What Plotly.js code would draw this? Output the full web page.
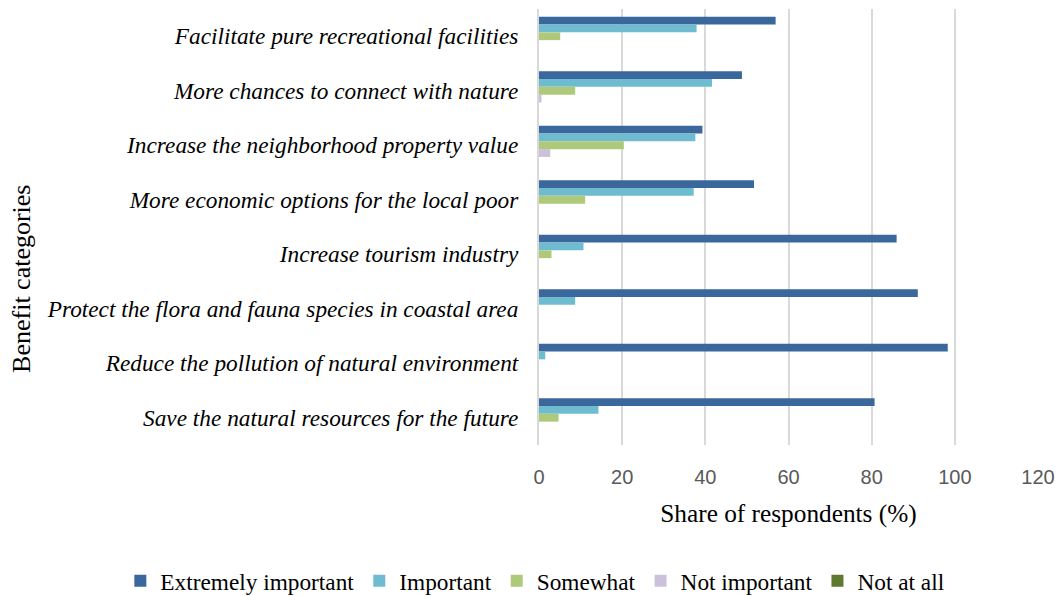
<!DOCTYPE html>
<html>
<head>
<meta charset="utf-8">
<script src="https://cdn.plot.ly/plotly-3.0.1.min.js"></script>
<style>html,body{margin:0;padding:0;background:#fff;}#chart{width:1063px;height:596px;}</style>
</head>
<body>
<div id="chart"></div>
<script>
const categories = [
  "Facilitate pure recreational facilities",
  "More chances to connect with nature",
  "Increase the neighborhood property value",
  "More economic options for the local poor",
  "Increase tourism industry",
  "Protect the flora and fauna species in coastal area",
  "Reduce the pollution of natural environment",
  "Save the natural resources for the future"
];
const extremelyImportant = [56.9, 48.8, 39.3, 51.7, 86.0, 91.1, 98.3, 80.7];
const important          = [37.9, 41.6, 37.6, 37.2, 10.7, 8.7, 1.5, 14.3];
const somewhat           = [5.1, 8.7, 20.4, 11.1, 3.0, 0, 0, 4.7];
const notImportant       = [0, 0.6, 2.7, 0, 0, 0, 0, 0];
const notAtAll           = [0, 0, 0, 0, 0, 0, 0, 0];
const seriesNames = ["Extremely important", "Important", "Somewhat", "Not important", "Not at all"];
const xTicks = [0, 20, 40, 60, 80, 100, 120];
const yTitle = "Benefit categories";
const xTitle = "Share of respondents (%)";

const colors = ["#3A679C", "#6FBCD1", "#AFC97A", "#CCC1DA", "#5E7A2F"];
const seriesValues = [extremelyImportant, important, somewhat, notImportant, notAtAll];

const traces = seriesValues.map((vals, i) => ({
  type: "bar",
  orientation: "h",
  name: seriesNames[i],
  y: categories,
  x: vals,
  marker: {color: colors[i], line: {width: 0}},
  hoverinfo: "x+y+name"
}));

const serif = "Liberation Serif, Times New Roman, serif";

const layout = {
  width: 1063,
  height: 596,
  margin: {l: 539, r: 25, t: 9, b: 151, autoexpand: false},
  paper_bgcolor: "#fff",
  plot_bgcolor: "#fff",
  barmode: "group",
  bargap: 0.285,
  bargroupgap: 0,
  xaxis: {
    range: [0, 120],
    tickvals: xTicks,
    ticktext: xTicks.map(String),
    showgrid: true,
    gridcolor: "#D9D9D9",
    gridwidth: 2,
    zeroline: false,
    showline: false,
    ticks: "",
    ticklabelstandoff: 18,
    tickfont: {family: "Liberation Sans, Arial, sans-serif", size: 20, color: "#595959"},
    title: {
      text: xTitle,
      font: {family: serif, size: 25.3, color: "#000"},
      standoff: 17
    },
    automargin: false,
    fixedrange: true
  },
  yaxis: {
    type: "category",
    autorange: "reversed",
    showgrid: false,
    zeroline: false,
    showline: true,
    linecolor: "#D9D9D9",
    linewidth: 2,
    ticks: "",
    ticklabelstandoff: 14,
    tickfont: {family: serif, size: 23.3, color: "#000", style: "italic"},
    automargin: false,
    fixedrange: true
  },
  annotations: [{
    text: yTitle,
    xref: "paper",
    yref: "paper",
    x: -1.036,
    y: 0.381,
    xanchor: "center",
    yanchor: "middle",
    textangle: -90,
    showarrow: false,
    font: {family: serif, size: 26, color: "#000"}
  }],
  showlegend: true,
  legend: {
    orientation: "h",
    x: -0.839,
    xanchor: "left",
    y: -0.312,
    yanchor: "middle",
    font: {family: serif, size: 23.3, color: "#000"},
    itemwidth: 30,
    traceorder: "normal"
  }
};

Plotly.newPlot("chart", traces, layout, {displayModeBar: false, staticPlot: true});
</script>
</body>
</html>
